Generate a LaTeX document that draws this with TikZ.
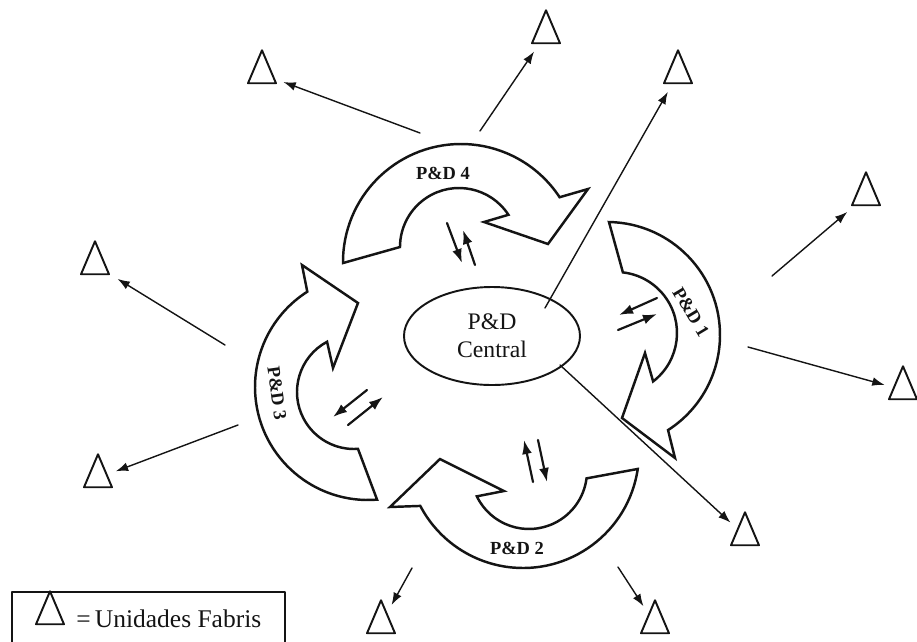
\documentclass[tikz,border=0pt]{standalone}
\usepackage{fontspec}
\setmainfont{Liberation Serif}
\usetikzlibrary{arrows.meta,calc,shapes.geometric}
\definecolor{pdInk}{HTML}{141414}
\tikzset{
 plan/.style={line cap=round,line join=round,text=pdInk,x=.2mm,y=-.2mm},
 unit/.style={isosceles triangle,isosceles triangle stretches,rotate=90,draw=pdInk,line width=1.1pt,
   inner sep=0pt,minimum width=5.6mm,minimum height=6.6mm},
 hub/.style={ellipse,draw=pdInk,fill=white,line width=1.1pt,inner sep=0pt,minimum width=35.2mm,
   minimum height=19.6mm,align=center,font=\fontsize{13.5}{16}\selectfont},
 loopband/.style={draw=pdInk,fill=white,line width=1.4pt,line join=miter},
 tag/.style={font=\fontsize{10.5}{12}\selectfont\bfseries,inner sep=1pt},
 link/.style={draw=pdInk,line width=.8pt,shorten >=5pt,-{Latex[length=7pt,width=5pt]}},
 swap/.style={draw=pdInk,line width=1.25pt,-{Latex[length=8pt,width=5.6pt]}},
 keybox/.style={draw=pdInk,line width=1pt},
 keytext/.style={font=\fontsize{14.5}{17}\selectfont,anchor=west,inner sep=0pt}
}

\begin{document}
\begin{tikzpicture}[plan]
 \useasboundingbox (0,0) rectangle (917,641);
 \coordinate (co4) at (461,262); \coordinate (ci4) at (459,247);
 \coordinate (co1) at (607,335); \coordinate (ci1) at (616,333);
 \coordinate (co2) at (523,452); \coordinate (ci2) at (529,471);
 \coordinate (co3) at (368,387); \coordinate (ci3) at (354,392);
 \draw[loopband] ($(co4)+(179.5:118)$) arc[start angle=179.5,end angle=326.7,radius=118]
   -- (588,189) -- (548,244) -- (484,222) -- ($(ci4)+(326.9:59)$) arc[start angle=326.9,end angle=180,radius=59] -- cycle;
 \draw[loopband] ($(co1)+(-89:113)$) arc[start angle=-89,end angle=57.3,radius=113]
   -- (675,458) -- (622,418) -- (645,353) -- ($(ci1)+(52.5:61)$) arc[start angle=52.5,end angle=-83.5,radius=61] -- cycle;
 \draw[loopband] ($(co2)+(8.4:116)$) arc[start angle=8.4,end angle=152.3,radius=116]
   -- (390,507) -- (440,459) -- (504,491) -- ($(ci2)+(154.1:58)$) arc[start angle=154.1,end angle=7.3,radius=58] -- cycle;
 \draw[loopband] ($(co3)+(85.4:113)$) arc[start angle=85.4,end angle=237.5,radius=113]
   -- (302,265) -- (358,303) -- (333,368) -- ($(ci3)+(241.8:57)$) arc[start angle=241.8,end angle=86,radius=57] -- cycle;
 \node[tag] (tag4) at (443,173) {P\&D 4};
 \node[tag,rotate=-59] (tag1) at (691,312) {P\&D 1};
 \node[tag] (tag2) at (517,548) {P\&D 2};
 \node[tag,rotate=-82] (tag3) at (277,393) {P\&D 3};
 \node[hub] (central) at (492,336) {P\&D\\Central};
 \node[unit] (f1) at (546,34) {}; \node[unit] (f2) at (262,74) {};
 \node[unit] (f3) at (678,74) {}; \node[unit] (f4) at (866,196) {};
 \node[unit] (f5) at (903,390) {}; \node[unit] (f6) at (745,536) {};
 \node[unit] (f7) at (655,624) {}; \node[unit] (f8) at (381,624) {};
 \node[unit] (f9) at (98,478) {}; \node[unit] (f10) at (95,265) {};
 \coordinate (s1) at (480,131); \coordinate (s2) at (420,133);
 \coordinate (s3) at (545,308); \coordinate (s4) at (772,276);
 \coordinate (s5) at (748,347); \coordinate (s6) at (560,365);
 \coordinate (s7) at (618,567); \coordinate (s8) at (412,568);
 \coordinate (s9) at (238,425); \coordinate (s10) at (225,345);
 \foreach \i in {1,...,10} \draw[link] (s\i) -- (f\i);
 \coordinate (x4a) at (447,223); \coordinate (x4b) at (462,263);
 \coordinate (x4c) at (475,265); \coordinate (x4d) at (463,230);
 \coordinate (x1a) at (657,298); \coordinate (x1b) at (619,315);
 \coordinate (x1c) at (618,330); \coordinate (x1d) at (657,314);
 \coordinate (x2a) at (533,482); \coordinate (x2b) at (524,440);
 \coordinate (x2c) at (538,440); \coordinate (x2d) at (547,482);
 \coordinate (x3a) at (367,390); \coordinate (x3b) at (333,417);
 \coordinate (x3c) at (348,425); \coordinate (x3d) at (383,397);
 \foreach \k in {1,...,4} {\draw[swap] (x\k a) -- (x\k b); \draw[swap] (x\k c) -- (x\k d);}
 \draw[keybox] (12,648) |- (285,592) -- (285,648);
 \node[unit] (key) at (50,615) {};
 \node[keytext] (keylabel) at (76,619) {=\,Unidades Fabris};
\end{tikzpicture}
\end{document}
